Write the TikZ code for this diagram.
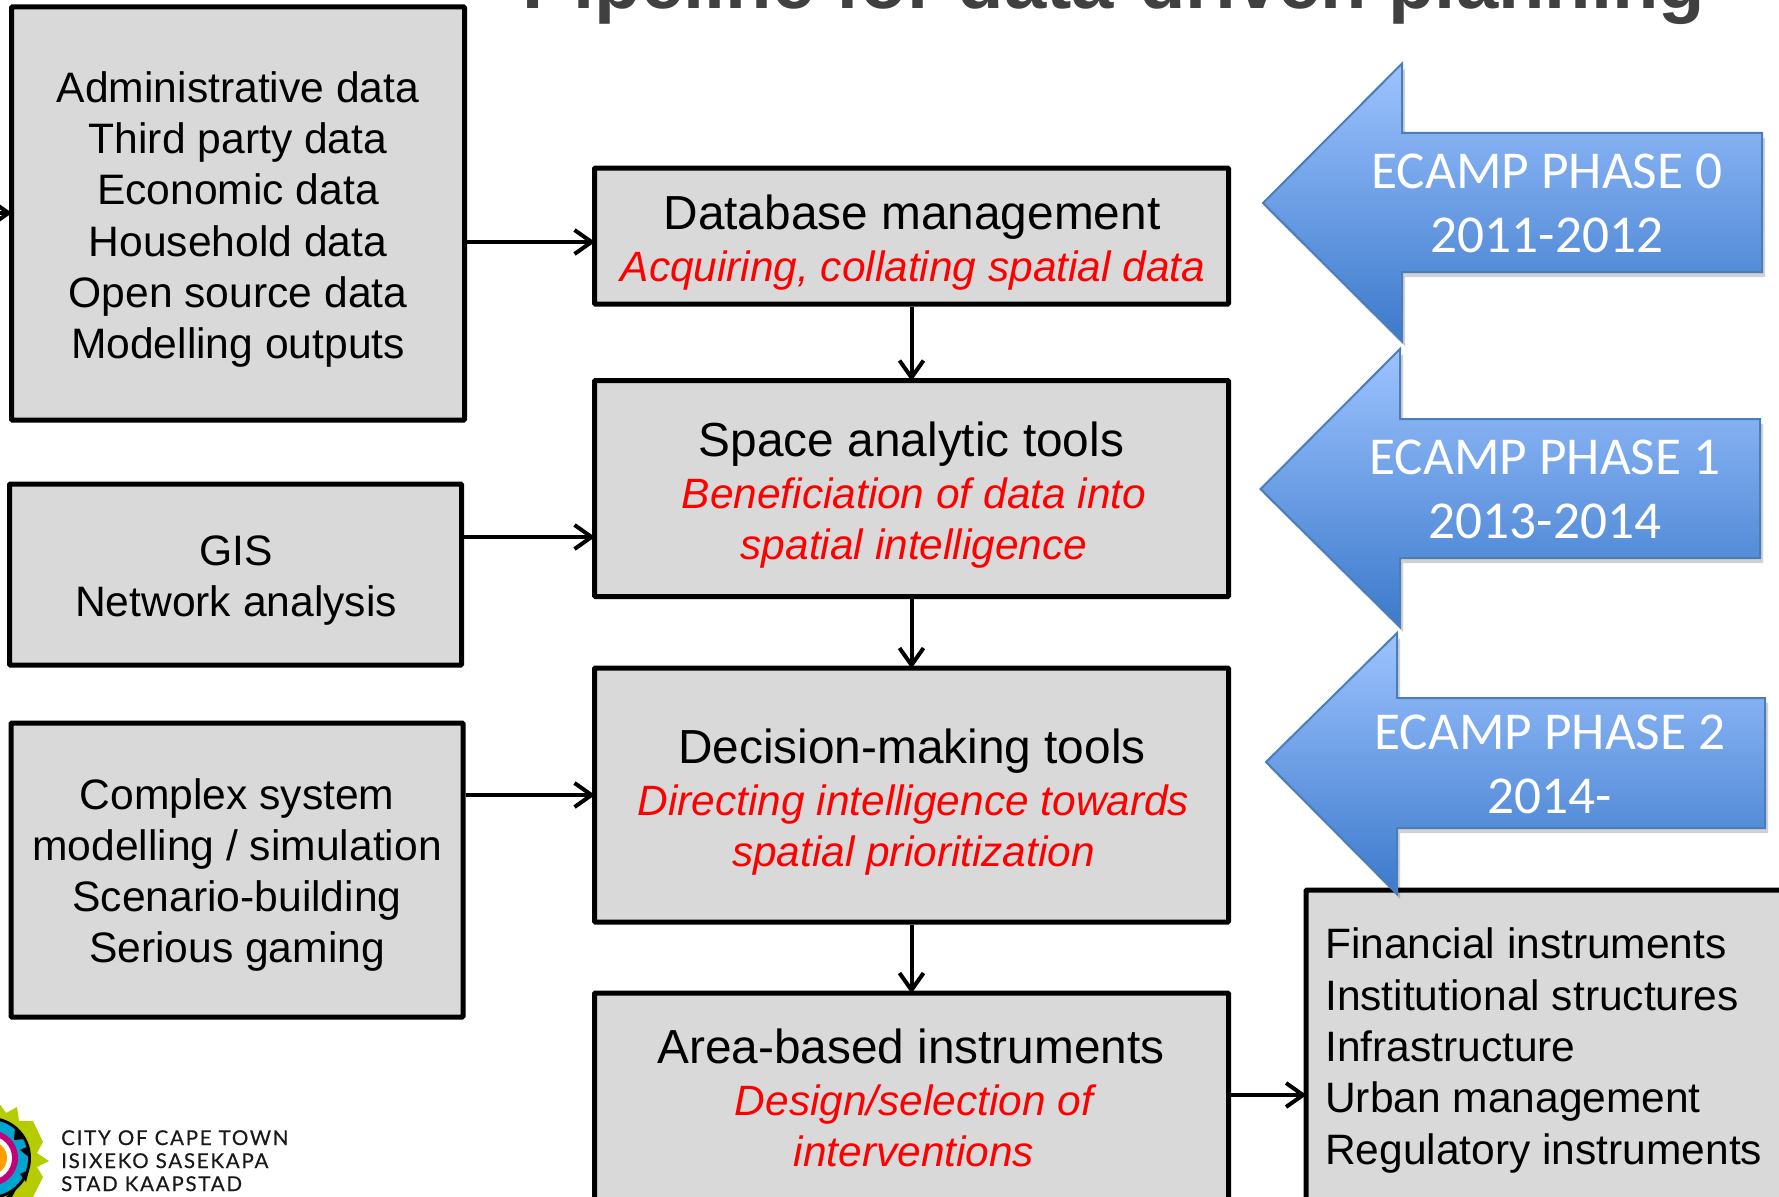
\documentclass[tikz,border=0pt]{standalone}
\usepackage{fontspec}
\setmainfont{Liberation Sans}
\newfontfamily\calfont{Carlito}
\newfontfamily\latfont[LetterSpace=8.6,FakeBold=0.4]{Lato}
\usetikzlibrary{arrows.meta,calc}
\definecolor{boxgray}{HTML}{D9D9D9}
\definecolor{titlegray}{HTML}{404040}
\definecolor{arrowedge}{HTML}{4A7EBB}
\definecolor{arrowtop}{HTML}{9DC3FF}
\definecolor{arrowbot}{HTML}{3C7ACB}
\definecolor{logolime}{HTML}{B5CC00}
\definecolor{logocyan}{HTML}{00A5CF}
\definecolor{logomag}{HTML}{C4007A}
\definecolor{logoorange}{HTML}{FF9E00}
\tikzset{
  flowbox/.style={draw=black,line width=5pt,fill=boxgray,rounded corners=1pt},
  body/.style={font=\fontsize{42.6}{51.3}\selectfont,align=center,inner sep=0pt,text=black},
  bodyl/.style={font=\fontsize{42.5}{51.3}\selectfont,align=left,inner sep=0pt,text=black},
  redt/.style={font=\fontsize{42.4}{51.3}\selectfont\itshape,align=center,inner sep=0pt,text=red},
  head/.style={font=\fontsize{47.8}{51.3}\selectfont,align=center,inner sep=0pt,text=black},
  conn/.style={draw=black,line width=4pt,shorten >=-3pt,-{Straight Barb[length=17pt,width=24pt,line width=4pt]}},
  phase/.style={draw=arrowedge,line width=2pt,top color=arrowtop,bottom color=arrowbot,line join=miter},
  phaseshadow/.style={fill=black,opacity=0.18,draw=none},
  phaset/.style={font=\calfont\fontsize{53.3}{64}\selectfont,align=center,inner sep=0pt,text=white},
  logot/.style={font=\latfont\fontsize{20.5}{23}\selectfont,align=left,inner sep=0pt,text=black!90},
}
\newcommand{\phasearrow}[8]{% tip x,y; head x; top; bottom; body top; body bottom; right
  \fill[phaseshadow] (#1+3,#2+5) -- (#3+3,#4+5) -- (#3+3,#6+5) -- (#8+3,#6+5) -- (#8+3,#7+5) -- (#3+3,#7+5) -- (#3+3,#5+5) -- cycle;
  \path[phase] (#1,#2) -- (#3,#4) -- (#3,#6) -- (#8,#6) -- (#8,#7) -- (#3,#7) -- (#3,#5) -- cycle;
}
\begin{document}
\begin{tikzpicture}[x=1pt,y=-1pt]
\useasboundingbox (0,0) rectangle (1779,1196);
\clip (0,0) rectangle (1779,1196);
\fill[white] (0,0) rectangle (1779,1196);
% title
\node[font=\bfseries\fontsize{76}{80}\selectfont,text=titlegray,anchor=base,inner sep=0pt] (title) at (1114,9) {Pipeline for data-driven planning};
% boxes
\node[flowbox,minimum width=453pt,minimum height=413pt] (adm) at (238,213.5) {};
\node[flowbox,minimum width=452pt,minimum height=181pt] (gis) at (235.5,574.5) {};
\node[flowbox,minimum width=452pt,minimum height=294pt] (cpx) at (237,870) {};
\node[flowbox,minimum width=634pt,minimum height=136pt] (db) at (911.5,236) {};
\node[flowbox,minimum width=634pt,minimum height=216pt] (sp) at (911.5,488.5) {};
\node[flowbox,minimum width=634pt,minimum height=254pt] (dm) at (911.5,795) {};
\node[flowbox,minimum width=634pt,minimum height=300pt] (ab) at (911.5,1143) {};
\node[flowbox,minimum width=500pt,minimum height=340pt] (ins) at (1556,1060) {};
% texts
\node[body] (admt) at (238,219.5) {Administrative data\\Third party data\\Economic data\\Household data\\Open source data\\Modelling outputs};
\node[body] (gist) at (236,580.5) {GIS\\Network analysis};
\node[body] (cpxt) at (237,875) {Complex system\\modelling / simulation\\Scenario-building\\Serious gaming};
\node[head] (dbh) at (912,217) {Database management};
\node[redt] (dbr) at (913,270.5) {Acquiring, collating spatial data};
\node[head] (sph) at (911.5,444) {Space analytic tools};
\node[redt] (spr) at (914,523) {Beneficiation of data into\\spatial intelligence};
\node[head] (dmh) at (912,751) {Decision-making tools};
\node[redt] (dmr) at (913.5,830) {Directing intelligence towards\\spatial prioritization};
\node[head] (abh) at (911,1046) {Area-based instruments};
\node[redt] (abr) at (914,1126) {Design/selection of\\interventions};
\node[bodyl,anchor=west] (inst) at (1325,1050.5) {Financial instruments\\Institutional structures\\Infrastructure\\Urban management\\Regulatory instruments};
% connectors
\coordinate (inl) at (-30,213);
\draw[conn] (inl) -- (adm.west |- inl);
\draw[conn] (adm.east |- 0,242) -- (db.west |- 0,242);
\draw[conn] (gis.east |- 0,537) -- (sp.west |- 0,537);
\draw[conn] (cpx.east |- 0,795) -- (dm.west |- 0,795);
\draw[conn] (db.south) -- (sp.north);
\draw[conn] (sp.south) -- (dm.north);
\draw[conn] (dm.south) -- (ab.north);
\draw[conn] (ab.east |- 0,1095) -- (ins.west |- 0,1095);
% phase arrows
\phasearrow{1263}{203}{1402}{63.5}{341.5}{133}{272}{1762}
\node[phaset] (p0) at (1547,203) {ECAMP PHASE 0\\2011-2012};
\phasearrow{1260.5}{489}{1400}{349}{627}{419}{558}{1760}
\node[phaset] (p1) at (1545,489) {ECAMP PHASE 1\\2013-2014};
\phasearrow{1266}{762}{1397}{633}{894}{698}{828}{1765}
\node[phaset] (p2) at (1550,764) {ECAMP PHASE 2\\2014-};
% logo
\fill[logolime] (-1,1103) -- (6,1113) -- (17,1107) -- (19,1121) -- (33,1121) -- (43,1142) -- (37,1153) -- (49,1161) -- (37,1167) -- (43,1177) -- (33,1197) -- (-1,1197) -- cycle;
\fill[black] (-10,1158) circle (41);
\fill[logocyan] (-10,1158) circle (38);
\fill[black] (15,1128) -- (25,1139) -- (14,1140) -- cycle;
\fill[black] (29,1146) -- (20,1150) -- (30,1158) -- cycle;
\fill[black] (29,1170) -- (20,1174) -- (26,1182) -- cycle;
\fill[black] (18,1186) -- (12,1197) -- (6,1197) -- cycle;
\fill[logomag] (-10,1158) circle (28);
\fill[white] (-10,1158) circle (22);
\fill[logoorange] (-10,1158) circle (17);
\node[logot,anchor=north west] (logot) at (61,1130) {CITY OF CAPE TOWN\\ISIXEKO SASEKAPA\\STAD KAAPSTAD};
\end{tikzpicture}
\end{document}
